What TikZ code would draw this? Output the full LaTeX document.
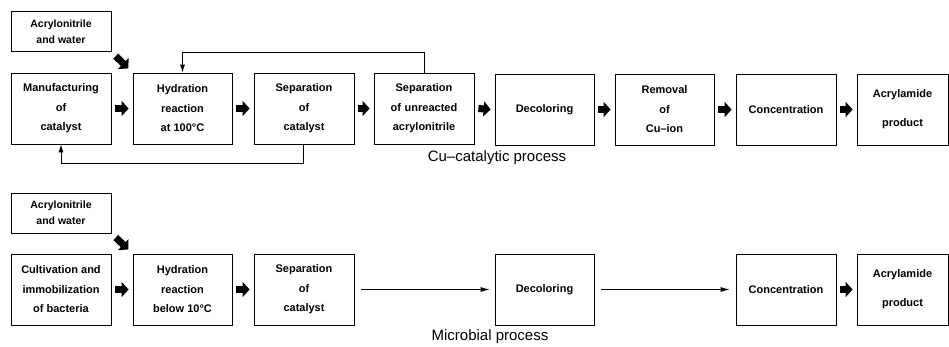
\documentclass[tikz,border=0pt]{standalone}
\usepackage{fontspec}
\setmainfont{Liberation Sans}
\usetikzlibrary{arrows.meta}
\begin{document}
\begin{tikzpicture}[x=1pt,y=-1pt,
  box/.style={draw,line width=0.8pt,minimum width=100pt,minimum height=71pt,inner sep=1pt,align=center,
    font=\fontsize{11}{19.5}\selectfont\bfseries},
  srcbox/.style={draw,line width=0.8pt,minimum width=100pt,minimum height=40pt,inner sep=1pt,align=center,
    font=\fontsize{10.5}{16}\selectfont\bfseries},
  blockarrow/.style={line width=7pt,-{Triangle[length=7pt,width=15pt]}},
  thinarrow/.style={line width=0.8pt,-{Latex[length=9pt,width=5pt]}},
  loopline/.style={line width=0.8pt,-{Latex[length=8pt,width=5pt]}},
  caption/.style={font=\fontsize{15}{17}\selectfont}
]
\useasboundingbox (0,0) rectangle (949,346);
% ---------- top row ----------
\node[srcbox] (a1) at (61,31.5) {Acrylonitrile\\and water};
\node[box] (t1) at (61,108.5) {Manufacturing\\of\\catalyst};
\node[box,minimum width=99pt] (t2) at (182.5,108.5) {Hydration\\reaction\\at 100°C};
\node[box] (t3) at (304,108.5) {Separation\\of\\catalyst};
\node[box] (t4) at (424,108.5) {Separation\\of\,\,unreacted\\acrylonitrile};
\node[box,minimum width=99pt] (t5) at (544.5,109.5) {Decoloring};
\node[box,minimum width=99pt] (t6) at (664.5,109.5) {Removal\\of\\Cu–ion};
\node[box] (t7) at (786,109.5) {Concentration};
\node[box,minimum width=91pt,font=\fontsize{11}{29}\selectfont\bfseries] (t8) at (902.5,109.5) {Acrylamide\\product};
\node[caption] (c1) at (497,158) {Cu–catalytic process};

\draw[blockarrow,shorten <=6pt,shorten >=6pt] (a1.south east) -- (t2.north west);
\foreach \p/\q in {t1/t2,t2/t3,t3/t4,t4/t5,t5/t6,t6/t7,t7/t8}{
  \draw[blockarrow] ([xshift=4pt]\p.east) -- ([xshift=-4pt]\q.west);
}
% recycle loops
\draw[loopline] (t4.north) -- ++(0,-20) -| (t2.north);
\draw[loopline] ([xshift=-1pt]t3.south) -- ++(0,19) -| (t1.south);

% ---------- bottom row ----------
\node[srcbox] (a2) at (61,213) {Acrylonitrile\\and water};
\node[box] (b1) at (61,289.5) {Cultivation and\\immobilization\\of bacteria};
\node[box,minimum width=99pt] (b2) at (182.5,289.5) {Hydration\\reaction\\below 10°C};
\node[box] (b3) at (304,289.5) {Separation\\of\\catalyst};
\node[box,minimum width=99pt] (b4) at (544.5,289.5) {Decoloring};
\node[box] (b5) at (786,289.5) {Concentration};
\node[box,minimum width=91pt,font=\fontsize{11}{29}\selectfont\bfseries] (b6) at (902.5,289.5) {Acrylamide\\product};
\node[caption] (c2) at (490,337) {Microbial process};

\draw[blockarrow,shorten <=6pt,shorten >=6pt] (a2.south east) -- (b2.north west);
\foreach \p/\q in {b1/b2,b2/b3,b5/b6}{
  \draw[blockarrow] ([xshift=4pt]\p.east) -- ([xshift=-4pt]\q.west);
}
\draw[thinarrow] ([xshift=7pt]b3.east) -- ([xshift=-5pt]b4.west);
\draw[thinarrow] ([xshift=7pt]b4.east) -- ([xshift=-6pt]b5.west);
\end{tikzpicture}
\end{document}
